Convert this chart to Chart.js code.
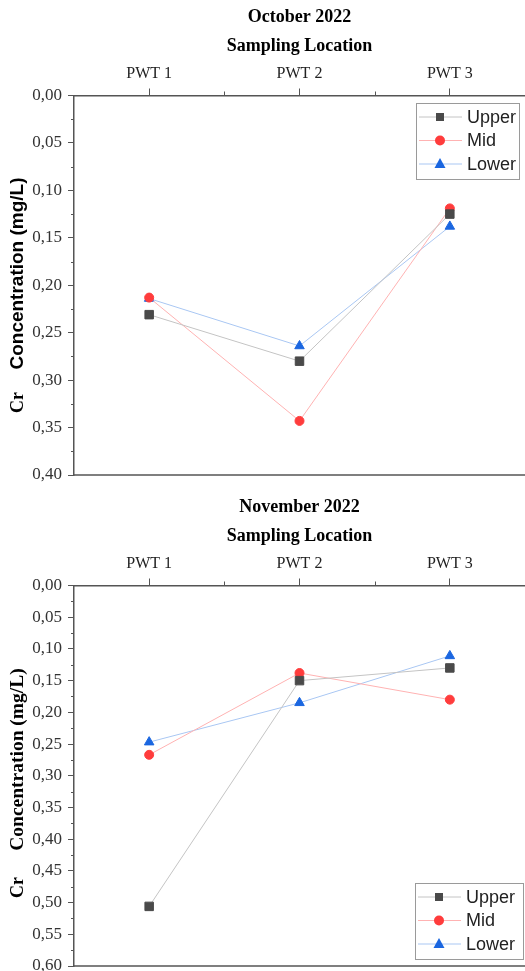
<!DOCTYPE html>
<html>
<head>
<meta charset="utf-8">
<script src="https://cdn.jsdelivr.net/npm/chart.js@4/dist/chart.umd.min.js"></script>
<style>
  html, body { margin: 0; padding: 0; background: #fff; overflow: hidden; }
  .wrap { position: absolute; left: 0; width: 525px; }
  #wrapOct { top: 0; height: 490px; }
  #wrapNov { top: 490px; height: 481px; }
</style>
</head>
<body>
<div class="wrap" id="wrapOct"><canvas id="graficoOutubro"></canvas></div>
<div class="wrap" id="wrapNov"><canvas id="graficoNovembro"></canvas></div>
<script>
// Dados (mg/L de Cr)
const locations = ["PWT 1", "PWT 2", "PWT 3"];

const octUpper = [0.231, 0.280, 0.125];
const octMid = [0.213, 0.343, 0.119];
const octLower = [0.214, 0.264, 0.138];

const novUpper = [0.506, 0.150, 0.130];
const novMid = [0.267, 0.138, 0.180];
const novLower = [0.247, 0.185, 0.111];

const seriesNames = ["Upper", "Mid", "Lower"];

const AXIS = "#555";
const SERIF = "'Liberation Serif', 'Times New Roman', serif";
const SANS = "'Liberation Sans', Arial, sans-serif";

function makeDatasets(upper, mid, lower) {
    return [
        {
            label: seriesNames[0],
            data: upper,
            borderColor: "#c4c4c4",
            borderWidth: 1,
            pointStyle: "rect",
            pointRadius: 6,
            pointBackgroundColor: "#4a4a4a",
            pointBorderColor: "#4a4a4a",
            pointBorderWidth: 1,
        },
        {
            label: seriesNames[1],
            data: mid,
            borderColor: "#ffb2b2",
            borderWidth: 1,
            pointStyle: "circle",
            pointRadius: 4.5,
            pointBackgroundColor: "#ff3c3c",
            pointBorderColor: "#ff3c3c",
            pointBorderWidth: 1,
        },
        {
            label: seriesNames[2],
            data: lower,
            borderColor: "#a9c7f3",
            borderWidth: 1,
            pointStyle: "triangle",
            pointRadius: 5.5,
            pointBackgroundColor: "#1a66e0",
            pointBorderColor: "#1a66e0",
            pointBorderWidth: 1,
        },
    ];
}

// eixos: ticks menores, linha inferior, titulo do eixo y, legenda dentro
const extrasPlugin = {
    id: "extras",
    afterDraw(chart, args, opts) {
        const ctx = chart.ctx;
        const area = chart.chartArea;
        const x = chart.scales.x;
        const y = chart.scales.y;
        ctx.save();

        // linha de baixo
        ctx.strokeStyle = AXIS;
        ctx.lineWidth = 1.5;
        ctx.beginPath();
        ctx.moveTo(area.left, area.bottom);
        ctx.lineTo(area.right, area.bottom);
        ctx.stroke();

        // ticks menores
        ctx.lineWidth = 1;
        ctx.beginPath();
        for (let i = 0; i < locations.length - 1; i++) {
            const mx = Math.round((x.getPixelForValue(i) + x.getPixelForValue(i + 1)) / 2) + 0.5;
            ctx.moveTo(mx, area.top);
            ctx.lineTo(mx, area.top - 4);
        }
        for (let v = 0.025; v < y.max; v += 0.05) {
            const my = Math.round(y.getPixelForValue(v)) + 0.5;
            ctx.moveTo(area.left, my);
            ctx.lineTo(area.left - 3, my);
        }
        ctx.stroke();

        // titulo do eixo y: "Cr" + "Concentration (mg/L)"
        ctx.fillStyle = "#000";
        ctx.textBaseline = "middle";
        ctx.textAlign = "center";
        ctx.translate(18, area.top);
        ctx.rotate(-Math.PI / 2);
        ctx.font = "bold 18px " + SERIF;
        ctx.fillText("Cr", -opts.crAt, 0);
        ctx.font = "bold " + opts.titleSize + "px " + opts.titleFont;
        ctx.fillText("Concentration (mg/L)", -opts.concAt, 0);
        ctx.restore();

        // legenda
        ctx.save();
        const boxW = opts.legendW, boxH = 76;
        const bx = area.right - boxW - opts.legendRight;
        const by = opts.legendAt === "top" ? area.top + 7.5 : area.bottom - boxH - 7;
        ctx.fillStyle = "#fff";
        ctx.fillRect(bx, by, boxW, boxH);
        ctx.strokeStyle = "#9a9a9a";
        ctx.lineWidth = 1;
        ctx.strokeRect(Math.round(bx) + 0.5, Math.round(by) + 0.5, boxW, boxH);
        ctx.font = "18px " + SANS;
        ctx.textBaseline = "middle";
        ctx.textAlign = "left";
        chart.data.datasets.forEach((ds, i) => {
            const ry = by + 14 + i * 23.5;
            ctx.strokeStyle = ds.borderColor;
            ctx.lineWidth = 1;
            ctx.beginPath();
            ctx.moveTo(bx + 3, ry);
            ctx.lineTo(bx + 46, ry);
            ctx.stroke();
            const cx = bx + 24;
            ctx.fillStyle = ds.pointBackgroundColor;
            ctx.beginPath();
            if (ds.pointStyle === "rect") {
                ctx.rect(cx - 4, ry - 4, 8, 8);
            } else if (ds.pointStyle === "circle") {
                ctx.arc(cx, ry, 5, 0, Math.PI * 2);
            } else {
                ctx.moveTo(cx, ry - 6);
                ctx.lineTo(cx + 5.5, ry + 4);
                ctx.lineTo(cx - 5.5, ry + 4);
                ctx.closePath();
            }
            ctx.fill();
            ctx.fillStyle = "#222";
            ctx.fillText(ds.label, bx + 51, ry + 1);
        });
        ctx.restore();
    },
};

function makeOptions(title, yMax, bottomPad, extras) {
    return {
        responsive: true,
        maintainAspectRatio: false,
        animation: false,
        layout: { autoPadding: false, padding: { top: 0, left: 0, right: 0, bottom: bottomPad } },
        plugins: {
            legend: { display: false },
            tooltip: { enabled: false },
            extras: extras,
        },
        scales: {
            x: {
                type: "category",
                position: "top",
                offset: true,
                afterFit: (s) => { s.height = 95.5; },
                title: {
                    display: true,
                    text: [title, "Sampling Location"],
                    color: "#000",
                    font: { family: SERIF, size: 18, weight: "bold", lineHeight: 1.6 },
                    padding: { top: 3.1, bottom: 0 },
                },
                ticks: {
                    color: "#222",
                    font: { family: SERIF, size: 16 },
                    padding: 5,
                    maxRotation: 0,
                },
                grid: { drawOnChartArea: false, tickLength: 7, color: AXIS, lineWidth: 1 },
                border: { display: true, color: AXIS, width: 1.5 },
            },
            y: {
                reverse: true,
                min: 0,
                max: yMax,
                afterFit: (s) => {
                    s.width = 74;
                    s.paddingTop = 0;
                    s.paddingBottom = 0;
                },
                ticks: {
                    stepSize: 0.05,
                    color: "#333",
                    font: { family: SERIF, size: 17 },
                    padding: 6,
                    callback: (v) => Number(v).toFixed(2).replace(".", ","),
                },
                grid: { drawOnChartArea: false, tickLength: 6, color: AXIS, lineWidth: 1 },
                border: { display: true, color: AXIS, width: 1.5 },
            },
        },
    };
}

// Grafico outubro
const configOutubro = {
    type: "line",
    data: { labels: locations, datasets: makeDatasets(octUpper, octMid, octLower) },
    options: makeOptions("October 2022", 0.4, 15, {
        titleFont: SANS, titleSize: 19, concAt: 178, crAt: 307,
        legendAt: "top", legendRight: 6, legendW: 103,
    }),
    plugins: [extrasPlugin],
};

var graficoOutubro = new Chart(document.getElementById("graficoOutubro"), configOutubro);

// Grafico novembro
const configNovembro = {
    type: "line",
    data: { labels: locations, datasets: makeDatasets(novUpper, novMid, novLower) },
    options: makeOptions("November 2022", 0.6, 5, {
        titleFont: SERIF, titleSize: 19.5, concAt: 174, crAt: 302,
        legendAt: "bottom", legendRight: 2, legendW: 108,
    }),
    plugins: [extrasPlugin],
};

var graficoNovembro = new Chart(document.getElementById("graficoNovembro"), configNovembro);
</script>
</body>
</html>
